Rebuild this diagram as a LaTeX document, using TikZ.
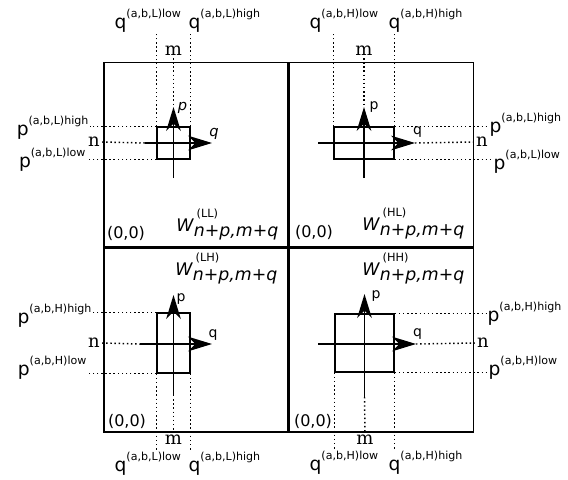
\documentclass[tikz,border=0pt]{standalone}
\usepackage{fontspec}
\newfontfamily\dejavu{DejaVu Sans}
\newfontfamily\dejaserif{DejaVu Serif}
\usepackage{tikz}
\usetikzlibrary{arrows.meta}
\newcommand{\bnd}[2]{#1\raisebox{8pt}{\fontsize{8.3}{10}\selectfont #2}}
\newcommand{\wlab}[1]{\textit{W}\rlap{\raisebox{10.5pt}{\hspace{2pt}\fontsize{8.5}{10}\selectfont(#1)}}\raisebox{-3.75pt}{\textit{n+p,m+q}}}
\tikzset{
  panel/.style = {rectangle, draw=black, line width=1.3pt, inner sep=0pt,
                  minimum width=138pt, minimum height=138pt},
  cell/.style  = {rectangle, draw=black, line width=1.1pt, inner sep=0pt},
  axis/.style  = {line width=1.1pt, -{Stealth[length=18pt,width=11pt,inset=5.5pt]}},
  guide/.style = {dotted, line width=1.1pt},
  bndlbl/.style = {font=\dejavu\fontsize{14}{16}\selectfont, inner sep=1pt},
  idx/.style   = {font=\dejaserif\fontsize{13.5}{16}\selectfont, inner sep=1.5pt},
  dir/.style   = {font=\dejavu\fontsize{10.5}{12}\selectfont, inner sep=0pt},
  dirit/.style = {dir, font=\dejavu\itshape\fontsize{11}{12}\selectfont},
  orig/.style  = {font=\dejavu\fontsize{12}{14}\selectfont, inner sep=0pt},
  wlbl/.style  = {font=\dejavu\fontsize{13}{15}\selectfont, inner sep=0pt, anchor=base west},
}
\begin{document}
\begin{tikzpicture}[x=0.75pt, y=-0.75pt]
  \useasboundingbox (0,0) rectangle (568,479);

  \node[panel] (ll) at (196,154.5) {};
  \node[cell, minimum width=24.75pt, minimum height=24pt] (llc) at (173.5,143) {};
  \coordinate (llp0) at (173.5,178);
  \coordinate (llp1) at (173.5,107);
  \coordinate (llq0) at (145,143);
  \coordinate (llq1) at (212,143);
  \draw[axis] (llp0) -- (llp1);
  \draw[axis] (llq0) -- (llq1);
  \node[dirit] (llp) at (182.5,107.5) {p};
  \node[dirit] (llq) at (214,134) {q};
  \node[idx] (llm) at (173.5,51) {m};
  \node[idx] (lln) at (94,142) {n};
  \node[bndlbl, anchor=south west] (llqlo) at (113,34) {\bnd{q}{(a,b,L)low}};
  \node[bndlbl, anchor=south west] (llqhi) at (187,34) {\bnd{q}{(a,b,L)high}};
  \node[bndlbl, anchor=east] (llphi) at (90,128) {\bnd{p}{(a,b,L)high}};
  \node[bndlbl, anchor=east] (llplo) at (87,160) {\bnd{p}{(a,b,L)low}};
  \draw[guide] (llc.north west) -- (llc.north west |- llqlo.south);
  \draw[guide] (llc.north east) -- (llc.north east |- llqhi.south);
  \draw[guide] (llm.south) -- (llp1);
  \draw[guide] (llc.north west) -- (llc.north west -| llphi.east);
  \draw[guide] (llc.south west) -- (llc.south west -| llplo.east);
  \draw[guide] (lln.east) -- (llq0);
  \node[orig] (llo) at (126,233) {(0,0)};
  \node[wlbl] (llw) at (176,231) {\wlab{LL}};

  \node[panel] (hl) at (381.5,154.5) {};
  \node[cell, minimum width=45pt, minimum height=24pt] (hlc) at (364,143) {};
  \coordinate (hlp0) at (364,178);
  \coordinate (hlp1) at (364,107);
  \coordinate (hlq0) at (318,143);
  \coordinate (hlq1) at (415,143);
  \draw[axis] (hlp0) -- (hlp1);
  \draw[axis] (hlq0) -- (hlq1);
  \node[dir] (hlp) at (374,107.5) {p};
  \node[dir] (hlq) at (417.5,132.5) {q};
  \node[idx] (hlm) at (364,51) {m};
  \node[idx] (hln) at (482,142) {n};
  \node[bndlbl, anchor=south west] (hlqlo) at (308,34) {\bnd{q}{(a,b,H)low}};
  \node[bndlbl, anchor=south west] (hlqhi) at (387,34) {\bnd{q}{(a,b,H)high}};
  \node[bndlbl, anchor=west] (hlphi) at (488,125) {\bnd{p}{(a,b,L)high}};
  \node[bndlbl, anchor=west] (hlplo) at (492,162) {\bnd{p}{(a,b,L)low}};
  \draw[guide] (hlc.north west) -- (hlc.north west |- hlqlo.south);
  \draw[guide] (hlc.north east) -- (hlc.north east |- hlqhi.south);
  \draw[guide] (hlm.south) -- (hlp1);
  \draw[guide] (hlc.north east) -- (hlc.north east -| hlphi.west);
  \draw[guide] (hlc.south east) -- (hlc.south east -| hlplo.west);
  \draw[guide] (hlq1) -- (hln.west);
  \node[orig] (hlo) at (314,232) {(0,0)};
  \node[wlbl] (hlw) at (362,230) {\wlab{HL}};

  \node[panel] (lh) at (196,340) {};
  \node[cell, minimum width=24.75pt, minimum height=45pt] (lhc) at (173.5,343) {};
  \coordinate (lhp0) at (173.5,395);
  \coordinate (lhp1) at (173.5,295);
  \coordinate (lhq0) at (140,344);
  \coordinate (lhq1) at (212,344);
  \draw[axis] (lhp0) -- (lhp1);
  \draw[axis] (lhq0) -- (lhq1);
  \node[dir] (lhp) at (181,299) {p};
  \node[dir] (lhq) at (213,335.5) {q};
  \node[idx] (lhm) at (173.5,440) {m};
  \node[idx] (lhn) at (94,343) {n};
  \node[bndlbl, anchor=south west] (lhqlo) at (113,477) {\bnd{q}{(a,b,L)low}};
  \node[bndlbl, anchor=south west] (lhqhi) at (187,477) {\bnd{q}{(a,b,L)high}};
  \node[bndlbl, anchor=east] (lhphi) at (93,316) {\bnd{p}{(a,b,H)high}};
  \node[bndlbl, anchor=east] (lhplo) at (88,368) {\bnd{p}{(a,b,H)low}};
  \draw[guide] (lhc.south west) -- (lhc.south west |- lhqlo.north);
  \draw[guide] (lhc.south east) -- (lhc.south east |- lhqhi.north);
  \draw[guide] (lhp0) -- (lhm.north);
  \draw[guide] (lhc.north west) -- (lhc.north west -| lhphi.east);
  \draw[guide] (lhc.south west) -- (lhc.south west -| lhplo.east);
  \draw[guide] (lhn.east) -- (lhq0);
  \node[orig] (lho) at (127,421) {(0,0)};
  \node[wlbl] (lhw) at (175,275) {\wlab{LH}};

  \node[panel] (hh) at (381.5,340) {};
  \node[cell, minimum width=44.25pt, minimum height=43.5pt] (hhc) at (364.5,343) {};
  \coordinate (hhp0) at (364.5,397);
  \coordinate (hhp1) at (364.5,294);
  \coordinate (hhq0) at (318,344);
  \coordinate (hhq1) at (416,344);
  \draw[axis] (hhp0) -- (hhp1);
  \draw[axis] (hhq0) -- (hhq1);
  \node[dir] (hhp) at (376,296) {p};
  \node[dir] (hhq) at (417.5,334) {q};
  \node[idx] (hhm) at (365,440) {m};
  \node[idx] (hhn) at (483,343) {n};
  \node[bndlbl, anchor=south west] (hhqlo) at (308,476) {\bnd{q}{(a,b,H)low}};
  \node[bndlbl, anchor=south west] (hhqhi) at (387,476) {\bnd{q}{(a,b,H)high}};
  \node[bndlbl, anchor=west] (hhphi) at (486,314) {\bnd{p}{(a,b,H)high}};
  \node[bndlbl, anchor=west] (hhplo) at (487,368) {\bnd{p}{(a,b,H)low}};
  \draw[guide] (hhc.south west) -- (hhc.south west |- hhqlo.north);
  \draw[guide] (hhc.south east) -- (hhc.south east |- hhqhi.north);
  \draw[guide] (hhp0) -- (hhm.north);
  \draw[guide] (hhc.north east) -- (hhc.north east -| hhphi.west);
  \draw[guide] (hhc.south east) -- (hhc.south east -| hhplo.west);
  \draw[guide] (hhq1) -- (hhn.west);
  \node[orig] (hho) at (313,421) {(0,0)};
  \node[wlbl] (hhw) at (362,275) {\wlab{HH}};
\end{tikzpicture}
\end{document}
